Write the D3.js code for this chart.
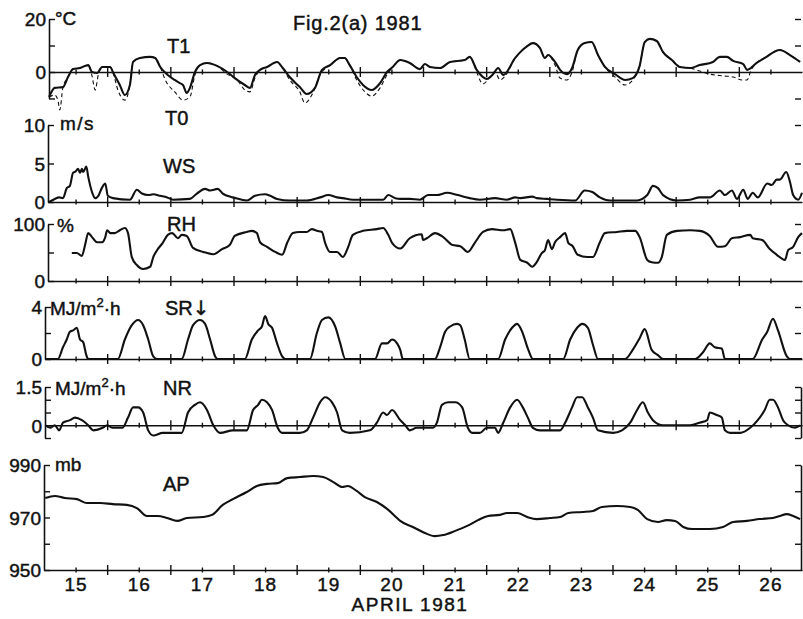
<!DOCTYPE html>
<html><head><meta charset="utf-8">
<script src="https://cdn.jsdelivr.net/npm/d3@7"></script>
<style>
html,body{margin:0;padding:0;background:#fff;}
svg{display:block;}
text{font-family:"Liberation Sans","DejaVu Sans",Arial,sans-serif;fill:#111;stroke:#111;stroke-width:0.45px;}
</style>
</head><body>
<svg id="c" width="803" height="619"></svg>
<script>
// ---------- DATA ----------
const dayLabels = [15,16,17,18,19,20,21,22,23,24,25,26];
const midnights = [16,17,18,19,20,21,22,23,24,25,26];
const noons = [15.5,16.5,17.5,18.5,19.5,20.5,21.5,22.5,23.5,24.5,25.5,26.5];

const tempTicks = [20,10,0,-10], tempLabels = [20,0];
const wsTicks = [10,5,0], wsLabels = [10,5,0];
const rhTicks = [100,50,0], rhLabels = [100,0];
const srTicks = [4,2,0], srLabels = [4,0];
const nrTicks = [1.5,1,0.5,0,-0.5], nrLabels = [1.5,0];
const apTicks = [990,980,970,960,950], apLabels = [990,970,950];

// [day of April, value]
const T1 = [[15.08,-9.4],[15.17,-6.0],[15.30,-5.7],[15.38,-1.9],[15.46,1.1],[15.57,1.5],[15.70,2.6],[15.76,0],[15.84,-0.4],[15.92,1.9],[16.05,1.9],[16.09,0],[16.20,-4.9],[16.28,-8.7],[16.36,-4.9],[16.41,3.8],[16.52,5.3],[16.68,5.7],[16.76,5.3],[16.84,1.9],[16.96,-1.1],[17.07,-3.0],[17.15,-4.2],[17.20,-4.9],[17.26,-7.9],[17.31,-6.0],[17.39,0],[17.47,2.6],[17.58,3.4],[17.74,2.3],[17.90,0],[18.02,-2.3],[18.18,-4.9],[18.26,-6.0],[18.34,-1.1],[18.42,0.8],[18.53,1.9],[18.69,3.8],[18.78,1.5],[18.89,-1.9],[19.05,-5.7],[19.16,-8.3],[19.29,-6.0],[19.40,0.8],[19.53,2.6],[19.69,5.3],[19.76,5.3],[19.84,2.6],[19.95,-1.9],[20.05,-4.9],[20.19,-6.8],[20.32,-4.2],[20.43,0],[20.52,1.9],[20.64,4.5],[20.79,3.4],[20.95,1.1],[21.03,3.0],[21.11,1.9],[21.27,1.5],[21.43,3.8],[21.66,4.5],[21.74,5.7],[21.85,0.8],[21.95,-1.9],[22.01,-2.6],[22.11,-0.8],[22.19,1.5],[22.27,-1.1],[22.46,5.3],[22.54,7.5],[22.65,9.8],[22.74,10.9],[22.85,9.1],[22.93,5.3],[22.98,6.4],[23.09,3.8],[23.17,0.8],[23.28,-0.8],[23.36,1.5],[23.45,8.3],[23.56,10.9],[23.67,11.3],[23.77,6.4],[23.88,1.9],[24.04,-0.8],[24.20,-3.0],[24.32,-2.3],[24.43,2.3],[24.51,11.3],[24.59,12.5],[24.70,11.7],[24.80,7.5],[24.94,4.5],[25.07,1.9],[25.23,1.5],[25.38,2.6],[25.59,3.8],[25.70,5.7],[25.81,5.7],[25.91,4.2],[26.07,3.0],[26.13,0.8],[26.19,1.5],[26.26,3.0],[26.41,5.3],[26.65,8.3],[26.81,6.4],[26.97,3.8]];

const T0 = [[15.08,-9.4],[15.17,-8.7],[15.22,-10.6],[15.25,-14.3],[15.30,-5.7],[15.38,-1.9],[15.46,1.1],[15.57,1.5],[15.70,2.6],[15.76,-1.5],[15.81,-6.8],[15.86,-1.0],[15.92,1.9],[16.05,1.9],[16.09,0],[16.17,-6.8],[16.28,-10.6],[16.36,-4.9],[16.41,3.8],[16.52,5.3],[16.68,5.7],[16.76,5.3],[16.84,1.9],[16.92,-3.0],[17.07,-7.5],[17.20,-10.6],[17.31,-9.4],[17.39,-1.1],[17.47,2.6],[17.58,3.4],[17.74,2.3],[17.90,-0.8],[18.06,-3.0],[18.18,-6.8],[18.26,-7.5],[18.34,-2.3],[18.42,0.8],[18.53,1.9],[18.69,3.8],[18.78,1.5],[18.89,-3.0],[19.05,-7.5],[19.13,-11.7],[19.24,-8.7],[19.37,-1.1],[19.53,2.6],[19.69,5.3],[19.76,5.3],[19.84,2.6],[19.95,-3.0],[20.08,-7.5],[20.19,-9.1],[20.32,-6.0],[20.43,-1.1],[20.52,1.9],[20.64,4.5],[20.79,3.4],[20.95,1.1],[21.03,3.0],[21.11,1.9],[21.27,1.5],[21.43,3.8],[21.66,4.5],[21.74,5.7],[21.85,0],[21.90,-3.0],[21.95,-4.5],[22.06,-1.9],[22.14,0],[22.22,-3.0],[22.30,-1.5],[22.46,5.3],[22.54,7.5],[22.65,9.8],[22.74,10.9],[22.85,9.1],[22.93,5.3],[22.98,6.4],[23.09,2.6],[23.17,-2.3],[23.28,-3.0],[23.36,0],[23.45,8.3],[23.56,10.9],[23.67,11.3],[23.77,6.4],[23.88,1.9],[24.04,-1.9],[24.20,-4.9],[24.32,-3.0],[24.43,2.3],[24.51,11.3],[24.59,12.5],[24.70,11.7],[24.80,7.5],[24.94,4.5],[25.07,1.9],[25.23,1.5],[25.38,0.4],[25.54,-0.8],[25.76,-1.5],[25.91,-1.9],[26.05,-3.0],[26.13,-3.0],[26.19,0.4],[26.26,3.0],[26.41,5.3],[26.65,8.3],[26.81,6.4],[26.97,3.8]];

const WS = [[15.08,0.0],[15.17,0.4],[15.24,0.6],[15.30,0.5],[15.36,1.8],[15.41,2.1],[15.46,3.8],[15.49,3.9],[15.54,4.3],[15.57,3.8],[15.60,4.3],[15.62,3.9],[15.67,4.6],[15.70,3.3],[15.76,1.3],[15.81,0.5],[15.86,0.8],[15.92,1.9],[15.97,2.4],[16.01,0.8],[16.09,0.5],[16.36,0.3],[16.47,1.6],[16.55,1.1],[16.65,0.9],[16.73,1.0],[16.84,0.8],[16.95,0.6],[17.04,0.3],[17.31,0.4],[17.42,1.1],[17.55,1.7],[17.63,1.5],[17.75,1.7],[17.83,1.1],[17.94,0.7],[17.99,0.6],[18.21,0.2],[18.34,0.8],[18.50,1.0],[18.58,0.8],[18.69,0.4],[18.89,0.2],[19.16,0.2],[19.37,0.6],[19.50,0.9],[19.64,0.6],[19.73,0.5],[19.89,0.3],[20.37,0.3],[20.45,0.9],[20.56,0.5],[20.64,0.4],[20.79,0.4],[20.95,0.3],[21.08,0.9],[21.22,0.9],[21.38,1.2],[21.55,0.9],[21.74,0.5],[21.90,0.3],[22.14,0.5],[22.33,0.3],[22.46,0.6],[22.54,0.5],[22.73,0.7],[22.80,0.5],[22.96,0.4],[23.12,0.3],[23.41,0.2],[23.56,1.5],[23.68,1.3],[23.80,0.6],[23.96,0.2],[24.39,0.2],[24.55,0.9],[24.64,2.1],[24.72,1.8],[24.80,0.9],[25.02,0.2],[25.23,0.3],[25.38,0.6],[25.54,0.6],[25.70,1.5],[25.78,0.9],[25.89,1.5],[25.97,0.4],[26.07,1.6],[26.14,0.4],[26.22,1.2],[26.30,0.6],[26.45,2.4],[26.52,2.2],[26.60,2.9],[26.65,2.9],[26.75,3.9],[26.81,2.6],[26.86,0.9],[26.94,0.3],[27.00,1.2]];

const RH = [[15.44,49],[15.52,49],[15.60,44],[15.65,63],[15.70,84],[15.76,77],[15.84,68],[15.92,68],[15.97,77],[16.00,89],[16.05,84],[16.12,84],[16.20,89],[16.28,93],[16.33,84],[16.39,42],[16.47,28],[16.57,21],[16.68,25],[16.73,42],[16.79,54],[16.88,67],[16.96,81],[17.03,84],[17.12,75],[17.18,81],[17.26,79],[17.36,58],[17.52,51],[17.68,47],[17.82,56],[17.94,63],[18.02,79],[18.21,86],[18.29,88],[18.37,84],[18.42,68],[18.53,60],[18.66,51],[18.77,46],[18.85,67],[18.94,84],[19.05,86],[19.16,86],[19.24,91],[19.32,88],[19.40,86],[19.45,67],[19.53,51],[19.64,51],[19.73,42],[19.81,58],[19.89,81],[20.05,88],[20.27,91],[20.37,93],[20.45,81],[20.51,67],[20.64,57],[20.79,75],[20.98,82],[21.00,72],[21.06,75],[21.19,84],[21.32,77],[21.47,63],[21.59,61],[21.71,51],[21.82,67],[21.95,86],[22.09,91],[22.27,89],[22.38,91],[22.46,67],[22.54,37],[22.65,32],[22.73,25],[22.80,33],[22.88,49],[22.93,54],[22.98,72],[23.04,56],[23.09,68],[23.17,77],[23.25,84],[23.30,67],[23.37,61],[23.45,46],[23.60,42],[23.69,42],[23.80,68],[23.88,84],[24.07,86],[24.23,88],[24.36,88],[24.43,77],[24.55,37],[24.62,33],[24.72,32],[24.78,42],[24.86,81],[25.02,88],[25.23,89],[25.38,88],[25.54,79],[25.67,60],[25.78,61],[25.89,75],[26.02,77],[26.18,81],[26.22,75],[26.37,72],[26.49,56],[26.60,46],[26.73,37],[26.78,54],[26.86,60],[26.94,77],[27.00,84]];

const SR = [[15.02,0],[15.22,0],[15.30,0.9],[15.36,1.5],[15.41,2.1],[15.46,2.2],[15.52,2.4],[15.57,1.5],[15.62,1.3],[15.67,0.3],[15.70,0],
[16.17,0],[16.28,1.5],[16.39,2.6],[16.49,3.0],[16.57,2.6],[16.65,1.5],[16.73,0.2],[16.79,0],
[17.18,0],[17.28,1.5],[17.36,2.6],[17.47,3.0],[17.55,2.7],[17.63,1.5],[17.71,0.2],[17.75,0],
[18.18,0],[18.29,1.5],[18.39,2.2],[18.45,2.5],[18.50,3.3],[18.55,2.7],[18.61,2.4],[18.69,1.2],[18.77,0.2],[18.82,0],
[19.21,0],[19.32,2.0],[19.40,3.0],[19.50,3.2],[19.61,2.5],[19.69,1.2],[19.77,0],
[20.24,0],[20.35,1.2],[20.43,1.2],[20.51,1.5],[20.59,1.2],[20.64,0.7],[20.68,0],
[21.19,0],[21.27,0.9],[21.35,2.1],[21.43,2.5],[21.54,2.7],[21.59,2.6],[21.66,1.5],[21.74,0],
[22.19,0],[22.30,1.5],[22.41,2.4],[22.49,2.7],[22.57,2.1],[22.66,0.8],[22.74,0],
[23.22,0],[23.33,1.5],[23.44,2.4],[23.52,2.7],[23.61,2.4],[23.69,1.1],[23.77,0],
[24.20,0],[24.32,0.7],[24.43,1.6],[24.51,2.3],[24.62,0.7],[24.72,0.3],[24.80,0],
[25.31,0],[25.43,0.5],[25.54,1.2],[25.62,0.9],[25.73,0.8],[25.78,0],
[26.22,0],[26.37,1.5],[26.45,2.1],[26.54,3.1],[26.62,2.2],[26.76,0.2],[26.81,0],[27.00,0]];

const NR = [[15.02,0],[15.10,-0.1],[15.17,0],[15.24,-0.2],[15.30,0.1],[15.41,0.2],[15.49,0.3],[15.60,0.2],[15.70,0],[15.78,-0.2],[15.93,-0.1],[16.00,0],[16.08,-0.1],[16.24,-0.1],[16.33,0.3],[16.41,0.7],[16.49,0.7],[16.57,0.5],[16.65,-0.2],[16.73,-0.4],[16.88,-0.3],[17.18,-0.3],[17.28,0.5],[17.39,0.8],[17.47,0.9],[17.58,0.6],[17.68,0],[17.79,-0.3],[17.99,-0.2],[18.21,-0.2],[18.31,0.6],[18.39,0.8],[18.45,1.0],[18.53,0.9],[18.61,0.6],[18.70,-0.1],[18.77,-0.3],[19.05,-0.3],[19.16,-0.2],[19.26,0.3],[19.37,0.9],[19.45,1.1],[19.56,0.9],[19.64,0.5],[19.72,-0.2],[19.84,-0.3],[20.16,-0.2],[20.27,0.1],[20.37,0.5],[20.43,0.4],[20.51,0.6],[20.64,0.2],[20.72,0],[20.79,-0.2],[20.90,-0.1],[21.16,-0.1],[21.22,0.1],[21.30,0.8],[21.40,0.9],[21.51,0.9],[21.62,0.7],[21.71,-0.1],[21.78,-0.3],[21.90,-0.3],[22.01,-0.1],[22.14,-0.1],[22.19,-0.3],[22.27,0.1],[22.38,0.7],[22.49,1.0],[22.58,0.7],[22.66,0.3],[22.74,-0.1],[22.85,-0.2],[23.01,-0.2],[23.17,-0.2],[23.25,0.1],[23.36,0.7],[23.44,1.1],[23.52,1.1],[23.61,0.7],[23.69,0.3],[23.77,-0.2],[24.01,-0.3],[24.15,-0.2],[24.28,0.1],[24.39,0.6],[24.48,0.9],[24.56,0.5],[24.64,0.2],[24.80,0],[25.02,0],[25.23,0],[25.38,0.1],[25.50,0.2],[25.54,0.5],[25.65,0.4],[25.73,0.3],[25.78,-0.2],[25.86,-0.3],[26.02,-0.3],[26.18,-0.1],[26.30,0.2],[26.41,0.6],[26.49,1.0],[26.54,1.0],[26.62,0.7],[26.70,0.2],[26.78,0],[26.89,-0.1],[26.97,0]];

const AP = [[15.02,977.4],[15.17,978.2],[15.33,977.4],[15.52,977.0],[15.68,975.5],[15.89,975.5],[16.09,975.1],[16.31,974.8],[16.47,973.6],[16.63,970.6],[16.80,970.6],[16.95,969.8],[17.11,968.7],[17.26,969.8],[17.52,970.2],[17.66,971.0],[17.83,974.8],[17.99,977.0],[18.21,979.7],[18.37,982.0],[18.53,982.8],[18.70,983.1],[18.85,985.0],[19.05,985.4],[19.26,985.8],[19.42,985.4],[19.58,983.5],[19.72,981.6],[19.81,982.0],[19.95,980.1],[20.08,977.8],[20.27,975.9],[20.45,972.9],[20.59,969.8],[20.64,968.7],[20.84,966.4],[21.03,964.1],[21.19,962.9],[21.32,963.3],[21.51,964.9],[21.70,966.8],[21.87,969.0],[22.03,970.6],[22.22,971.0],[22.33,971.7],[22.49,971.7],[22.65,970.2],[22.80,969.4],[23.01,969.8],[23.17,970.2],[23.30,971.7],[23.52,972.1],[23.69,972.5],[23.83,974.0],[24.07,974.4],[24.28,974.0],[24.40,972.9],[24.55,969.4],[24.72,968.3],[24.86,969.0],[24.99,968.7],[25.12,966.4],[25.26,965.6],[25.54,965.6],[25.75,966.4],[25.91,968.3],[26.13,968.7],[26.33,969.4],[26.54,969.8],[26.65,970.6],[26.76,971.3],[26.86,970.6],[26.97,969.4]];

// ---------- LAYOUT ----------
const svg = d3.select('#c');
const FS = 19;
const xLeft = 44, xRight = 802;
const x = d3.scaleLinear().domain([15, 27]).range([xLeft, xRight]);

const panels = [
  {series:[{d:T1},{d:T0,dash:true}], domain:[-10,20], range:[98.5,19], ax:49, ticks:tempTicks, labels:tempLabels, rticks:[20,10,-10], base:0, rline:false},
  {series:[{d:WS}], domain:[0,10], range:[202,125], ax:48, ticks:wsTicks, labels:wsLabels, rticks:[10,5], base:0, rline:false},
  {series:[{d:RH}], domain:[0,100], range:[281,224], ax:48, ticks:rhTicks, labels:rhLabels, rticks:[100,50], base:0, rline:false},
  {series:[{d:SR}], domain:[0,4], range:[359,307], ax:45, ticks:srTicks, labels:srLabels, rticks:[4,2], base:0, rline:false},
  {series:[{d:NR}], domain:[-0.5,1.5], range:[438,387], ax:45, ticks:nrTicks, labels:nrLabels, rticks:nrTicks, base:0, rline:true},
  {series:[{d:AP}], domain:[950,990], range:[570,465], ax:44, ticks:apTicks, labels:apLabels, rticks:[990,980,960], base:950, rline:true}
];

function styleAxis(g){
  g.selectAll('path.domain').attr('stroke','#111').attr('stroke-width',1.6);
  g.selectAll('.tick line').attr('stroke','#111').attr('stroke-width',1.4);
  g.selectAll('.tick text').attr('font-size',FS).attr('fill','#111')
    .attr('font-family','"Liberation Sans","DejaVu Sans",Arial,sans-serif');
}

panels.forEach(p => {
  const y = d3.scaleLinear().domain(p.domain).range(p.range);
  const g = svg.append('g');
  const xb = x.copy().domain([x.invert(p.ax), 27]).range([p.ax, xRight]);

  // baseline with midnight ticks
  const gb = g.append('g').attr('transform', `translate(0,${y(p.base)})`)
    .call(d3.axisBottom(xb).tickValues(midnights).tickSizeOuter(0).tickFormat(''));
  gb.selectAll('.tick line').attr('y1', -5).attr('y2', 5);
  styleAxis(gb);
  // noon ticks
  const gn = g.append('g').attr('transform', `translate(0,${y(p.base)})`)
    .call(d3.axisBottom(xb).tickValues(noons).tickSizeOuter(0).tickFormat(''));
  gn.select('.domain').remove();
  gn.selectAll('.tick line').attr('y1', -2.5).attr('y2', 2.5);
  styleAxis(gn);

  // left axis
  const gl = g.append('g').attr('transform', `translate(${p.ax},0)`)
    .call(d3.axisLeft(y).tickValues(p.ticks).tickSizeInner(-6).tickSizeOuter(0).tickPadding(3)
      .tickFormat(d => p.labels.includes(d) ? String(d) : ''));
  styleAxis(gl);
  gl.selectAll('.tick text').attr('dy','0.36em');

  // right axis
  const gr = g.append('g').attr('transform', `translate(${xRight - 1},0)`)
    .call(d3.axisRight(y).tickValues(p.rticks).tickSizeInner(-6).tickSizeOuter(0).tickFormat(''));
  if (!p.rline) gr.select('.domain').remove();
  styleAxis(gr);

  // data lines
  p.series.forEach(s => {
    const line = d3.line().x(d => x(d[0])).y(d => y(d[1])).curve(d3.curveMonotoneX);
    g.append('path').datum(s.d).attr('d', line)
      .attr('fill','none').attr('stroke','#111')
      .attr('stroke-width', s.dash ? 1.1 : 2.1)
      .attr('stroke-dasharray', s.dash ? '4,3' : null)
      .attr('stroke-linejoin','round');
  });
});

// day labels at noon on the bottom axis
const apY = 570;
const gd = svg.append('g').attr('transform', `translate(0,${apY})`)
  .call(d3.axisBottom(x).tickValues(noons).tickSize(0).tickPadding(8)
    .tickFormat((d,i) => String(dayLabels[i])));
gd.select('.domain').remove();
styleAxis(gd);
gd.selectAll('.tick text').attr('letter-spacing', 1);

// ---------- TEXT ----------
function txt(s, xx, yy, size, extra){
  const t = svg.append('text').attr('x', xx).attr('y', yy).attr('font-size', size || FS).text(s);
  if (extra) extra(t);
  return t;
}
txt('Fig.2(a) 1981', 293, 30, 20, t => t.attr('letter-spacing', 0.8));
txt('°C', 55, 25, FS);
txt('T1', 167, 53, 20);
txt('T0', 165, 125, 20);
txt('m/s', 60, 130, FS, t => t.attr('letter-spacing', 1.5));
txt('WS', 163, 173, 20);
txt('%', 57, 232, FS);
txt('RH', 167, 231, 20);
function unitMJ(xx, yy){
  const t = svg.append('text').attr('x', xx).attr('y', yy).attr('font-size', FS);
  t.append('tspan').text('MJ/m');
  t.append('tspan').attr('dy', -8).attr('font-size', 13).text('2');
  t.append('tspan').attr('dy', 8).attr('font-size', FS).text('·h');
}
unitMJ(50, 315);
const sr = svg.append('text').attr('x', 165).attr('y', 315).attr('font-size', 20);
sr.append('tspan').text('SR');
sr.append('tspan').attr('font-family', '"DejaVu Sans"').attr('fill', '#111').text('\u2193\uFE0E');
unitMJ(55, 395);
txt('NR', 163, 395, 20);
txt('mb', 55, 471, FS);
txt('AP', 163, 491, 20);
txt('APRIL 1981', 410, 611, FS, t => t.attr('text-anchor','middle').attr('letter-spacing', 1.5));
</script>
</body></html>
